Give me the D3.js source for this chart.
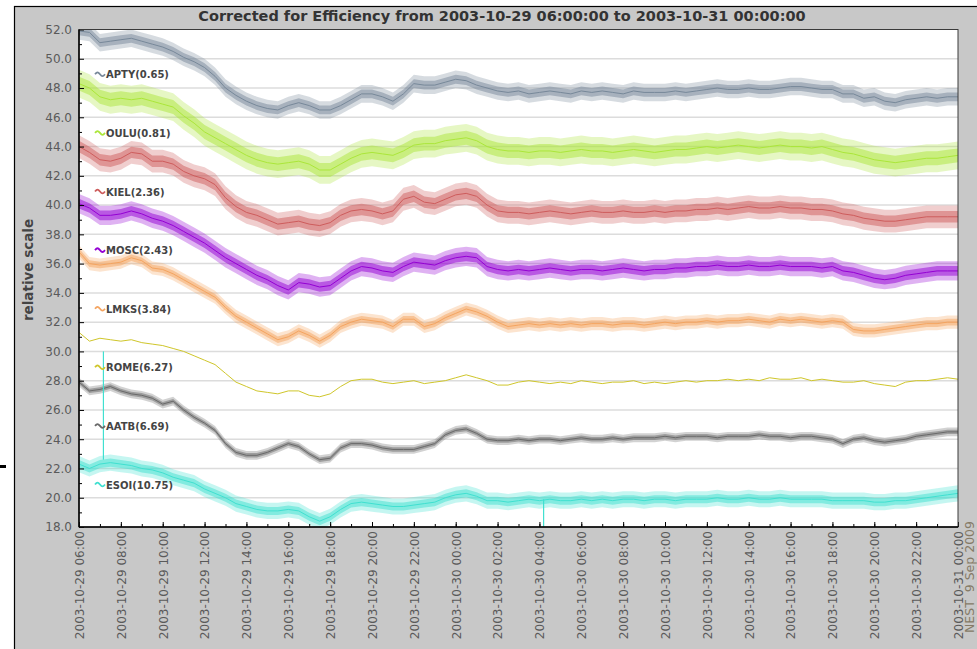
<!DOCTYPE html>
<html>
<head>
<meta charset="utf-8">
<script src="https://cdn.jsdelivr.net/npm/d3@7"></script>
<style>
  html, body { margin: 0; padding: 0; background: #ffffff; }
  svg { display: block; font-family: "DejaVu Sans", "Noto Sans", sans-serif; }
</style>
</head>
<body>
<svg id="chart" width="977" height="649"></svg>
<script>
// ---- chart text ----
const chartTitle = "Corrected for Efficiency from 2003-10-29 06:00:00 to 2003-10-31 00:00:00";
const yAxisTitle = "relative scale";
const stampText = "NEST\u00a0\u00a09 Sep 2009";

// ---- stations (legend name, scale factor) ----
const stations = ["APTY", "OULU", "KIEL", "MOSC", "LMKS", "ROME", "AATB", "ESOI"];
const factors  = [0.65, 0.81, 2.36, 2.43, 3.84, 6.27, 6.69, 10.75];
const colors   = ["#778899", "#abe63a", "#cd5c5c", "#9400d3", "#f4a460", "#cfc62a", "#696969", "#40e0d0"];
// half-width of the minute-to-minute scatter around each smoothed curve (relative units)
const spreads  = [0.6, 0.95, 0.78, 0.66, 0.45, 0.1, 0.3, 0.55];

// ---- time axis ----
const startTime = "2003-10-29 06:00";
const endTime   = "2003-10-31 00:00";
const stepMinutes = 30;

// ---- half-hourly values, 06:00 on the 29th through 00:00 on the 31st ----
const apty = [
  51.9, 51.8, 51.1, 51.2, 51.3, 51.4, 51.2, 51.0, 50.8, 50.5,
  50.1, 49.8, 49.4, 48.8, 48.0, 47.5, 47.1, 46.8, 46.6, 46.5,
  46.8, 47.0, 46.8, 46.5, 46.5, 46.8, 47.2, 47.6, 47.6, 47.4,
  47.1, 47.6, 48.3, 48.2, 48.2, 48.4, 48.6, 48.5, 48.2, 48.0,
  47.8, 47.7, 47.8, 47.6, 47.7, 47.8, 47.7, 47.6, 47.8, 47.7,
  47.8, 47.7, 47.6, 47.8, 47.7, 47.7, 47.7, 47.8, 47.7, 47.8,
  47.9, 48.0, 47.9, 47.9, 48.0, 47.9, 47.9, 48.0, 48.1, 48.1,
  48.0, 47.9, 47.9, 47.6, 47.6, 47.3, 47.4, 47.1, 47.0, 47.2,
  47.3, 47.4, 47.3, 47.4, 47.4
];
const oulu = [
  48.3, 48.0, 47.4, 47.2, 47.3, 47.2, 47.3, 47.1, 46.9, 46.7,
  46.1, 45.6, 45.0, 44.6, 44.2, 43.8, 43.4, 43.1, 42.9, 42.8,
  42.9, 43.0, 42.8, 42.4, 42.4, 42.8, 43.2, 43.5, 43.6, 43.5,
  43.4, 43.7, 44.1, 44.2, 44.2, 44.4, 44.5, 44.6, 44.4, 44.0,
  43.8, 43.7, 43.7, 43.6, 43.7, 43.7, 43.6, 43.7, 43.8, 43.7,
  43.7, 43.6, 43.7, 43.8, 43.7, 43.6, 43.7, 43.8, 43.8, 43.9,
  44.0, 43.9, 44.0, 44.1, 44.0, 43.9, 44.0, 44.1, 44.0, 44.0,
  43.9, 44.0, 43.8, 43.6, 43.5, 43.3, 43.1, 43.0, 42.9, 43.0,
  43.1, 43.2, 43.2, 43.3, 43.4
];
const kiel = [
  44.0, 43.6, 43.1, 43.0, 43.2, 43.6, 43.5, 43.0, 43.0, 42.8,
  42.3, 42.0, 41.8, 41.4, 40.5, 39.9, 39.5, 39.3, 39.0, 38.7,
  38.8, 38.9, 38.7, 38.6, 38.8, 39.3, 39.6, 39.7, 39.6, 39.4,
  39.6, 40.4, 40.6, 40.2, 40.1, 40.4, 40.7, 40.8, 40.6, 40.0,
  39.6, 39.5, 39.5, 39.4, 39.5, 39.6, 39.5, 39.4, 39.5, 39.6,
  39.5, 39.5, 39.6, 39.5, 39.5, 39.6, 39.5, 39.6, 39.6, 39.7,
  39.7, 39.8, 39.7, 39.8, 39.9, 39.8, 39.8, 39.9, 39.8, 39.8,
  39.7, 39.7, 39.6, 39.4, 39.3, 39.1, 39.0, 38.9, 38.9, 39.0,
  39.1, 39.2, 39.2, 39.2, 39.2
];
const mosc = [
  40.1, 39.8, 39.3, 39.3, 39.4, 39.6, 39.4, 39.1, 38.9, 38.6,
  38.2, 37.8, 37.4, 36.9, 36.4, 36.0, 35.6, 35.2, 34.9, 34.5,
  34.2, 34.7, 34.6, 34.4, 34.5, 35.0, 35.5, 35.8, 35.7, 35.5,
  35.4, 35.8, 36.1, 36.0, 35.9, 36.2, 36.4, 36.5, 36.4, 35.8,
  35.6, 35.5, 35.6, 35.5, 35.6, 35.7, 35.6, 35.5, 35.6, 35.6,
  35.5, 35.6, 35.7, 35.6, 35.5, 35.6, 35.6, 35.7, 35.7, 35.8,
  35.8, 35.9, 35.8, 35.8, 35.9, 35.8, 35.8, 35.9, 35.8, 35.8,
  35.8, 35.7, 35.8, 35.5, 35.4, 35.2, 35.0, 34.9, 35.0, 35.2,
  35.3, 35.4, 35.5, 35.5, 35.5
];
const lmks = [
  36.8, 36.0, 35.9, 36.0, 36.1, 36.4, 36.2, 35.7, 35.6, 35.3,
  34.9, 34.5, 34.1, 33.7, 33.0, 32.4, 32.0, 31.6, 31.2, 30.8,
  31.0, 31.4, 31.1, 30.7, 31.1, 31.7, 32.0, 32.2, 32.1, 32.0,
  31.7, 32.2, 32.2, 31.7, 31.9, 32.3, 32.6, 32.9, 32.7, 32.4,
  32.0, 31.7, 31.8, 31.9, 31.8, 31.9, 31.8, 31.9, 31.8, 31.9,
  31.9, 31.8, 31.9, 31.9, 31.8, 31.9, 32.0, 31.9, 32.0, 32.0,
  32.1, 32.0, 32.1, 32.1, 32.2, 32.1, 32.0, 32.2, 32.1, 32.2,
  32.1, 32.0, 32.1, 32.0, 31.5, 31.4, 31.4, 31.5, 31.6, 31.7,
  31.8, 31.9, 31.9, 32.0, 32.0
];
const rome = [
  31.3, 30.7, 30.9, 30.8, 30.7, 30.8, 30.6, 30.5, 30.4, 30.2,
  30.0, 29.7, 29.4, 29.1, 28.5, 27.9, 27.6, 27.3, 27.2, 27.1,
  27.3, 27.3, 27.0, 26.9, 27.1, 27.6, 28.0, 28.1, 28.1, 27.9,
  27.8, 27.9, 28.0, 27.8, 27.9, 28.0, 28.2, 28.4, 28.2, 28.0,
  27.7, 27.7, 27.9, 28.0, 27.9, 27.8, 27.9, 27.8, 28.0, 27.9,
  27.8, 27.9, 27.9, 28.0, 27.8, 27.9, 27.8, 27.9, 28.0, 27.9,
  28.0, 28.0, 28.1, 28.0, 28.1, 28.0, 28.2, 28.1, 28.1, 28.2,
  28.0, 28.1, 28.0, 27.9, 27.9, 28.0, 27.8, 27.7, 27.6, 27.9,
  28.0, 28.0, 28.1, 28.2, 28.1
];
const aatb = [
  27.9, 27.3, 27.4, 27.6, 27.3, 27.1, 27.0, 26.8, 26.4, 26.6,
  26.0, 25.5, 25.1, 24.6, 23.7, 23.1, 22.9, 22.9, 23.1, 23.4,
  23.7, 23.5, 23.0, 22.6, 22.7, 23.4, 23.7, 23.7, 23.6, 23.4,
  23.3, 23.3, 23.3, 23.5, 23.7, 24.3, 24.6, 24.7, 24.4, 24.0,
  23.9, 23.9, 24.0, 23.9, 24.0, 24.0, 23.9, 24.0, 24.1, 24.0,
  24.0, 24.1, 24.0, 24.1, 24.1, 24.1, 24.2, 24.1, 24.2, 24.2,
  24.2, 24.1, 24.2, 24.2, 24.2, 24.3, 24.2, 24.2, 24.1, 24.2,
  24.2, 24.1, 24.0, 23.7, 24.0, 24.1, 23.9, 23.8, 23.9, 24.0,
  24.2, 24.3, 24.4, 24.5, 24.5
];
const esoi = [
  22.3, 22.0, 22.3, 22.4, 22.3, 22.2, 22.0, 21.9, 21.7, 21.4,
  21.2, 21.0, 20.6, 20.3, 20.0, 19.6, 19.4, 19.2, 19.1, 19.1,
  19.2, 19.1, 18.7, 18.4, 18.7, 19.2, 19.6, 19.7, 19.6, 19.5,
  19.4, 19.4, 19.5, 19.6, 19.7, 20.0, 20.2, 20.3, 20.1, 19.8,
  19.8, 19.7, 19.8, 19.9, 19.8, 19.9, 19.8, 19.8, 19.9, 19.8,
  19.9, 19.8, 19.9, 19.9, 19.8, 19.9, 19.9, 19.8, 19.9, 19.9,
  19.9, 20.0, 19.9, 19.9, 20.0, 19.9, 19.9, 20.0, 19.9, 19.9,
  19.9, 19.9, 19.8, 19.8, 19.8, 19.8, 19.7, 19.7, 19.8, 19.8,
  19.9, 20.0, 20.1, 20.2, 20.3
];
// single-minute glitches in the ESOI record: [time, level before, glitch value]
const esoiSpikes = [
  ["2003-10-29 07:10", 22.6, 30.0],
  ["2003-10-30 04:12", 19.9, 17.6]
];
const seriesValues = [apty, oulu, kiel, mosc, lmks, rome, aatb, esoi];

// ---- axis ticks ----
const yTickValues  = [18, 20, 22, 24, 26, 28, 30, 32, 34, 36, 38, 40, 42, 44, 46, 48, 50, 52];
const yMinorValues = [19, 21, 23, 25, 27, 29, 31, 33, 35, 37, 39, 41, 43, 45, 47, 49, 51];

// ---- layout ----
const W = 977, H = 649;
const plot = { left: 79, right: 958, top: 29.5, bottom: 527 };

const parseTime = d3.utcParse("%Y-%m-%d %H:%M");
const fmtTick = d3.utcFormat("%Y-%m-%d %H:%M");
const t0 = parseTime(startTime), t1 = parseTime(endTime);

const x = d3.scaleUtc().domain([t0, t1]).range([plot.left, plot.right]);
const y = d3.scaleLinear().domain([18, 52]).range([plot.bottom, plot.top]);

const xTickValues  = d3.utcHour.every(2).range(t0, new Date(+t1 + 1));
const xMinorValues = d3.utcHour.every(1).range(t0, new Date(+t1 + 1));

const svg = d3.select("#chart");

// page + chart panel
svg.append("rect").attr("width", W).attr("height", H).attr("fill", "#ffffff");
svg.append("rect")
  .attr("x", 14.5).attr("y", 6.5).attr("width", W + 10).attr("height", H + 10)
  .attr("fill", "#c8c8c8").attr("stroke", "#000").attr("stroke-width", 1.2);
svg.append("rect").attr("x", 0).attr("y", 465).attr("width", 6).attr("height", 3).attr("fill", "#000");

// title
svg.append("text")
  .attr("x", 502).attr("y", 21)
  .attr("text-anchor", "middle")
  .attr("font-size", 14.5).attr("font-weight", "bold")
  .attr("fill", "#333")
  .text(chartTitle);

// plot background
svg.append("rect")
  .attr("x", plot.left).attr("y", plot.top)
  .attr("width", plot.right - plot.left).attr("height", plot.bottom - plot.top)
  .attr("fill", "#ffffff");

// horizontal grid
svg.append("g").selectAll("line").data(yTickValues.slice(1, -1)).join("line")
  .attr("x1", plot.left).attr("x2", plot.right)
  .attr("y1", d => y(d)).attr("y2", d => y(d))
  .attr("stroke", "#dcdcdc").attr("stroke-width", 1.5);

// clip for the data
svg.append("defs").append("clipPath").attr("id", "plotClip")
  .append("rect")
  .attr("x", plot.left).attr("y", plot.top)
  .attr("width", plot.right - plot.left).attr("height", plot.bottom - plot.top);

const dataLayer = svg.append("g").attr("clip-path", "url(#plotClip)");

const timeAt = i => d3.utcMinute.offset(t0, i * stepMinutes);

// scatter envelope drawn as two nested translucent bands, densest near the curve
const bandPath = (w) => d3.area()
  .x(d => x(d.t))
  .y0(d => y(d.v - w))
  .y1(d => y(d.v + w));

seriesValues.forEach((vals, k) => {
  const pts = vals.map((v, i) => ({ t: timeAt(i), v }));
  const s = spreads[k];
  const line = d3.line().x(d => x(d.t)).y(d => y(d.v));

  if (s > 0.15) {
    dataLayer.append("path").datum(pts)
      .attr("d", bandPath(s))
      .attr("fill", colors[k]).attr("fill-opacity", 0.3);
    dataLayer.append("path").datum(pts)
      .attr("d", bandPath(s * 0.5))
      .attr("fill", colors[k]).attr("fill-opacity", 0.5);
  }
  dataLayer.append("path").datum(pts)
    .attr("d", line)
    .attr("fill", "none")
    .attr("stroke", colors[k])
    .attr("stroke-width", 1)
    .attr("stroke-linejoin", "round");
});

// ESOI glitches
dataLayer.append("g").selectAll("line").data(esoiSpikes).join("line")
  .attr("x1", d => x(parseTime(d[0]))).attr("x2", d => x(parseTime(d[0])))
  .attr("y1", d => y(d[1])).attr("y2", d => y(d[2]))
  .attr("stroke", colors[7]).attr("stroke-width", 1.2);

// y axis
const yAxisG = svg.append("g").attr("transform", `translate(${plot.left},0)`)
  .call(d3.axisLeft(y).tickValues(yTickValues).tickFormat(d3.format(".1f"))
    .tickSize(-5).tickPadding(7));
yAxisG.select(".domain").remove();
yAxisG.selectAll(".tick line").attr("stroke", "#000");
yAxisG.selectAll("text")
  .attr("font-family", "DejaVu Sans, sans-serif")
  .attr("font-size", 12).attr("fill", "#5a5a5a");
svg.append("g").attr("transform", `translate(${plot.left},0)`)
  .call(d3.axisLeft(y).tickValues(yMinorValues).tickFormat("").tickSize(-3))
  .call(g => g.select(".domain").remove())
  .selectAll(".tick line").attr("stroke", "#000");

// x axis
const xAxisG = svg.append("g").attr("transform", `translate(0,${plot.bottom})`)
  .call(d3.axisBottom(x).tickValues(xTickValues).tickFormat(fmtTick).tickSize(-5));
xAxisG.select(".domain").remove();
xAxisG.selectAll(".tick line").attr("stroke", "#000");
xAxisG.selectAll("text")
  .attr("font-family", "DejaVu Sans, sans-serif")
  .attr("font-size", 12).attr("fill", "#5a5a5a")
  .attr("transform", "rotate(-90)")
  .attr("text-anchor", "end")
  .attr("x", -4).attr("y", 0).attr("dy", "0.36em");
svg.append("g").attr("transform", `translate(0,${plot.bottom})`)
  .call(d3.axisBottom(x).tickValues(xMinorValues).tickFormat("").tickSize(-3))
  .call(g => g.select(".domain").remove())
  .selectAll(".tick line").attr("stroke", "#000");

// plot frame
svg.append("rect")
  .attr("x", plot.left).attr("y", plot.top)
  .attr("width", plot.right - plot.left).attr("height", plot.bottom - plot.top)
  .attr("fill", "none").attr("stroke", "#3a3a3a").attr("stroke-width", 1);
svg.append("line")
  .attr("x1", plot.left).attr("x2", plot.left).attr("y1", plot.top).attr("y2", plot.bottom)
  .attr("stroke", "#000").attr("stroke-width", 1.5);
svg.append("line")
  .attr("x1", plot.left).attr("x2", plot.right).attr("y1", plot.bottom).attr("y2", plot.bottom)
  .attr("stroke", "#000").attr("stroke-width", 1.5);

// y axis title
svg.append("text")
  .attr("transform", `translate(33,270) rotate(-90)`)
  .attr("text-anchor", "middle")
  .attr("font-size", 13.5).attr("font-weight", "bold")
  .attr("fill", "#444")
  .text(yAxisTitle);

// station legend
const legend = svg.append("g");
stations.forEach((name, k) => {
  const by = 78.3 + 58.6 * k;
  legend.append("path")
    .attr("d", `M95,${by - 4} c2,-2.5 3,-2.5 5,0 s3,2.5 5,0`)
    .attr("fill", "none").attr("stroke", colors[k]).attr("stroke-width", 1.8);
  legend.append("text")
    .attr("x", 106).attr("y", by)
    .attr("font-size", 10).attr("font-weight", "bold")
    .attr("fill", "#444")
    .text(`${name}(${factors[k].toFixed(2)})`);
});

// generation stamp
svg.append("text")
  .attr("transform", `translate(973.5,521) rotate(-90)`)
  .attr("text-anchor", "end")
  .attr("font-size", 12.5)
  .attr("fill", "#857a66")
  .text(stampText);
</script>
</body>
</html>
